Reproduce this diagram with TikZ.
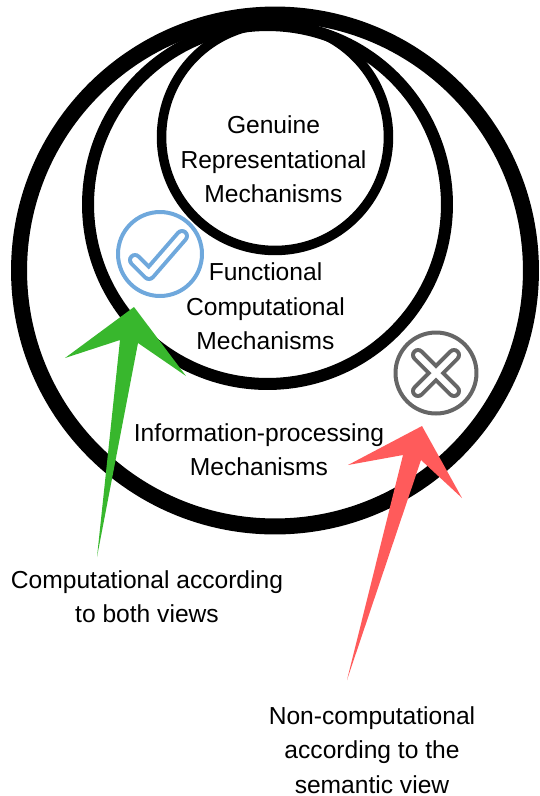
\documentclass[tikz,border=0pt]{standalone}
\usepackage{fontspec}
\setmainfont{Liberation Sans}
\tikzset{
every node/.style={font=\fontsize{14}{19.55}\selectfont, align=center}, % all the labels
ring/.style={circle, draw, inner sep=0pt},
tickmark/.style={circle, draw, line width=0.08cm, inner sep=0pt, minimum size=1.68cm},
glyph/.style={line width=0.08cm, double=white, double distance=0.12cm, line cap=round, line join=round},
}
\definecolor{tickblue}{HTML}{6FA8DC}
\definecolor{crossgray}{HTML}{666666}
\definecolor{yesgreen}{HTML}{38B72D}
\definecolor{nored}{HTML}{FF5B5B}

\begin{document}
\begin{tikzpicture}[x=0.02cm, y=-0.02cm]
    \useasboundingbox (0,0) rectangle (540,796);

    \node[ring, line width=0.32cm, minimum size=10.24cm] at (275,270.5) (outer) {};
    \node[ring, line width=0.24cm, minimum size=7.18cm] at (267.5,204.5) (middle) {};
    \node[ring, line width=0.19cm, minimum size=4.54cm] at (275,137) (inner) {};

    \node at (273.5,159.5) (genuine) {Genuine\\Representational\\Mechanisms};
    \node at (265.5,306.5) (functional) {Functional\\Computational\\Mechanisms};
    \node at (259,449.5) (info) {Information-processing\\Mechanisms};
    \node at (147,596.5) (both) {Computational according\\to both views};
    \node at (372,750) (semantic) {Non-computational\\according to the\\semantic view};

    % the two icons
    \node[tickmark, tickblue] at (160,254) (tick) {};
    \draw[glyph, tickblue] (135,260) -- (149,274) -- (182,236);
    \node[tickmark, crossgray, minimum size=1.62cm] at (436,373) (cross) {};
    \draw[glyph, crossgray] (418,355) -- (454,391) (454,355) -- (418,391);

    % tapered arrows
    \fill[yesgreen] (134,307) -- (65,358) -- (120,340) -- (97,557) -- (138,343) -- (186,376) -- cycle;
    \fill[nored] (422,426) -- (348,465) -- (403,455) -- (347,680) -- (421,460) -- (462,498) -- cycle;
\end{tikzpicture}
\end{document}
